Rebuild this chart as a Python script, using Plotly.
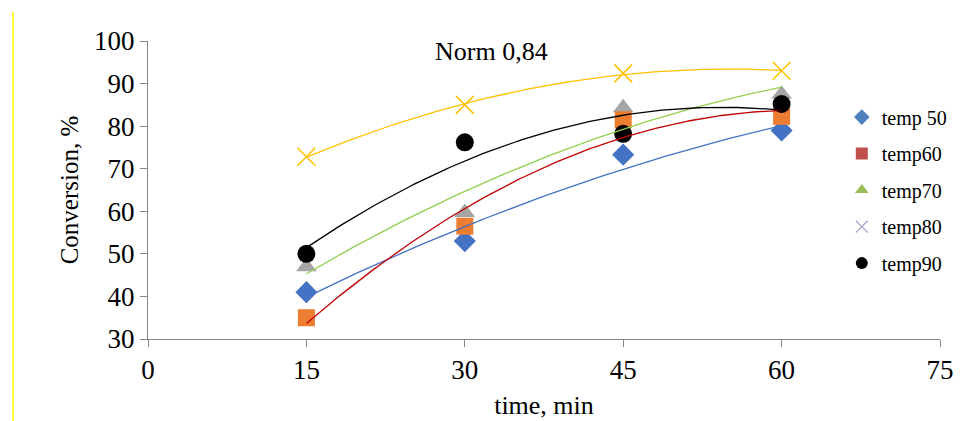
import numpy as np
import plotly.graph_objects as go

# ---- data ----
time_min = [15, 30, 45, 60]
series_names = ["temp 50", "temp60", "temp70", "temp80", "temp90"]
temp50 = [41, 53, 73.3, 79]
temp60 = [35, 56.5, 81.5, 82.3]
temp70 = [47, 59.7, 84.3, 87.5]
temp80 = [72.8, 85, 92.4, 93]
temp90 = [50, 76.2, 78.2, 85.2]
x_ticks = [0, 15, 30, 45, 60, 75]
y_ticks = [30, 40, 50, 60, 70, 80, 90, 100]
norm_label = "Norm 0,84"

# ---- styles ----
FONT = "Liberation Serif, Times New Roman, serif"
marker_styles = {
    "temp 50": dict(symbol="diamond", color="#4472C4", size=17),
    "temp60": dict(symbol="square", color="#ED7D31", size=17),
    "temp70": dict(symbol="triangle-up", color="#A5A5A5", size=18),
    "temp80": dict(symbol="x-thin", color="#FFC000", size=18,
                   line=dict(color="#FFC000", width=1.5)),
    "temp90": dict(symbol="circle", color="#000000", size=18),
}
trend_colors = {"temp 50": "#4472C4", "temp60": "#C00000", "temp70": "#92D050",
                "temp80": "#FFC000", "temp90": "#000000"}
legend_styles = {
    "temp 50": dict(symbol="diamond", color="#4F81BD", size=12),
    "temp60": dict(symbol="square", color="#C0504D", size=12),
    "temp70": dict(symbol="triangle-up", color="#9BBB59", size=12),
    "temp80": dict(symbol="x-thin", color="#8064A2", size=12,
                   line=dict(color="#A99BC9", width=1.3)),
    "temp90": dict(symbol="circle", color="#000000", size=12),
}
draw_order = ["temp 50", "temp70", "temp60", "temp80", "temp90"]

data = dict(zip(series_names, [temp50, temp60, temp70, temp80, temp90]))

fig = go.Figure()

# markers
for name in draw_order:
    fig.add_trace(go.Scatter(x=time_min, y=data[name], mode="markers",
                             marker=marker_styles[name], showlegend=False,
                             hoverinfo="x+y", name=name))

# polynomial (order 2) trendlines computed from the data
xs = np.linspace(min(time_min), max(time_min), 120)
for name in series_names:
    coef = np.polyfit(time_min, data[name], 2)
    fig.add_trace(go.Scatter(x=xs, y=np.polyval(coef, xs), mode="lines",
                             line=dict(color=trend_colors[name], width=1.3),
                             showlegend=False, hoverinfo="skip"))

# legend entries
for i, name in enumerate(series_names):
    fig.add_trace(go.Scatter(x=[None], y=[None], mode="markers",
                             marker=legend_styles[name], name=name,
                             legendgroup=f"g{i}", showlegend=True))

fig.add_annotation(x=32.55, y=97.5, xref="x", yref="y", text=norm_label,
                   showarrow=False, font=dict(family=FONT, size=26, color="#000"))

fig.add_shape(type="line", xref="paper", yref="paper",
              x0=-0.1703, x1=-0.1703, y0=-0.30, y1=1.097,
              line=dict(color="#FFFF00", width=1.6))

axis_common = dict(showline=True, linecolor="#868686", linewidth=1,
                   ticks="outside", ticklen=7, tickcolor="#868686",
                   showgrid=False, zeroline=False,
                   tickfont=dict(family=FONT, size=27, color="#000"))

fig.update_xaxes(range=[0, 75], tickvals=x_ticks,
                 title=dict(text="time, min", standoff=11,
                            font=dict(family=FONT, size=26, color="#000")),
                 **axis_common)
fig.update_yaxes(range=[30, 100], tickvals=y_ticks,
                 title=dict(text="Conversion, %", standoff=8,
                            font=dict(family=FONT, size=25, color="#000")),
                 **axis_common)

fig.update_layout(
    width=974, height=421,
    margin=dict(l=139.5, r=42, t=33, b=89.7),
    paper_bgcolor="white", plot_bgcolor="white",
    font=dict(family=FONT, color="#000"),
    legend=dict(x=0.876, y=0.81, xanchor="left", yanchor="top",
                font=dict(family=FONT, size=20, color="#000"),
                tracegroupgap=7.5, bgcolor="rgba(0,0,0,0)",
                itemwidth=30),
)

fig.write_html("out.html")
